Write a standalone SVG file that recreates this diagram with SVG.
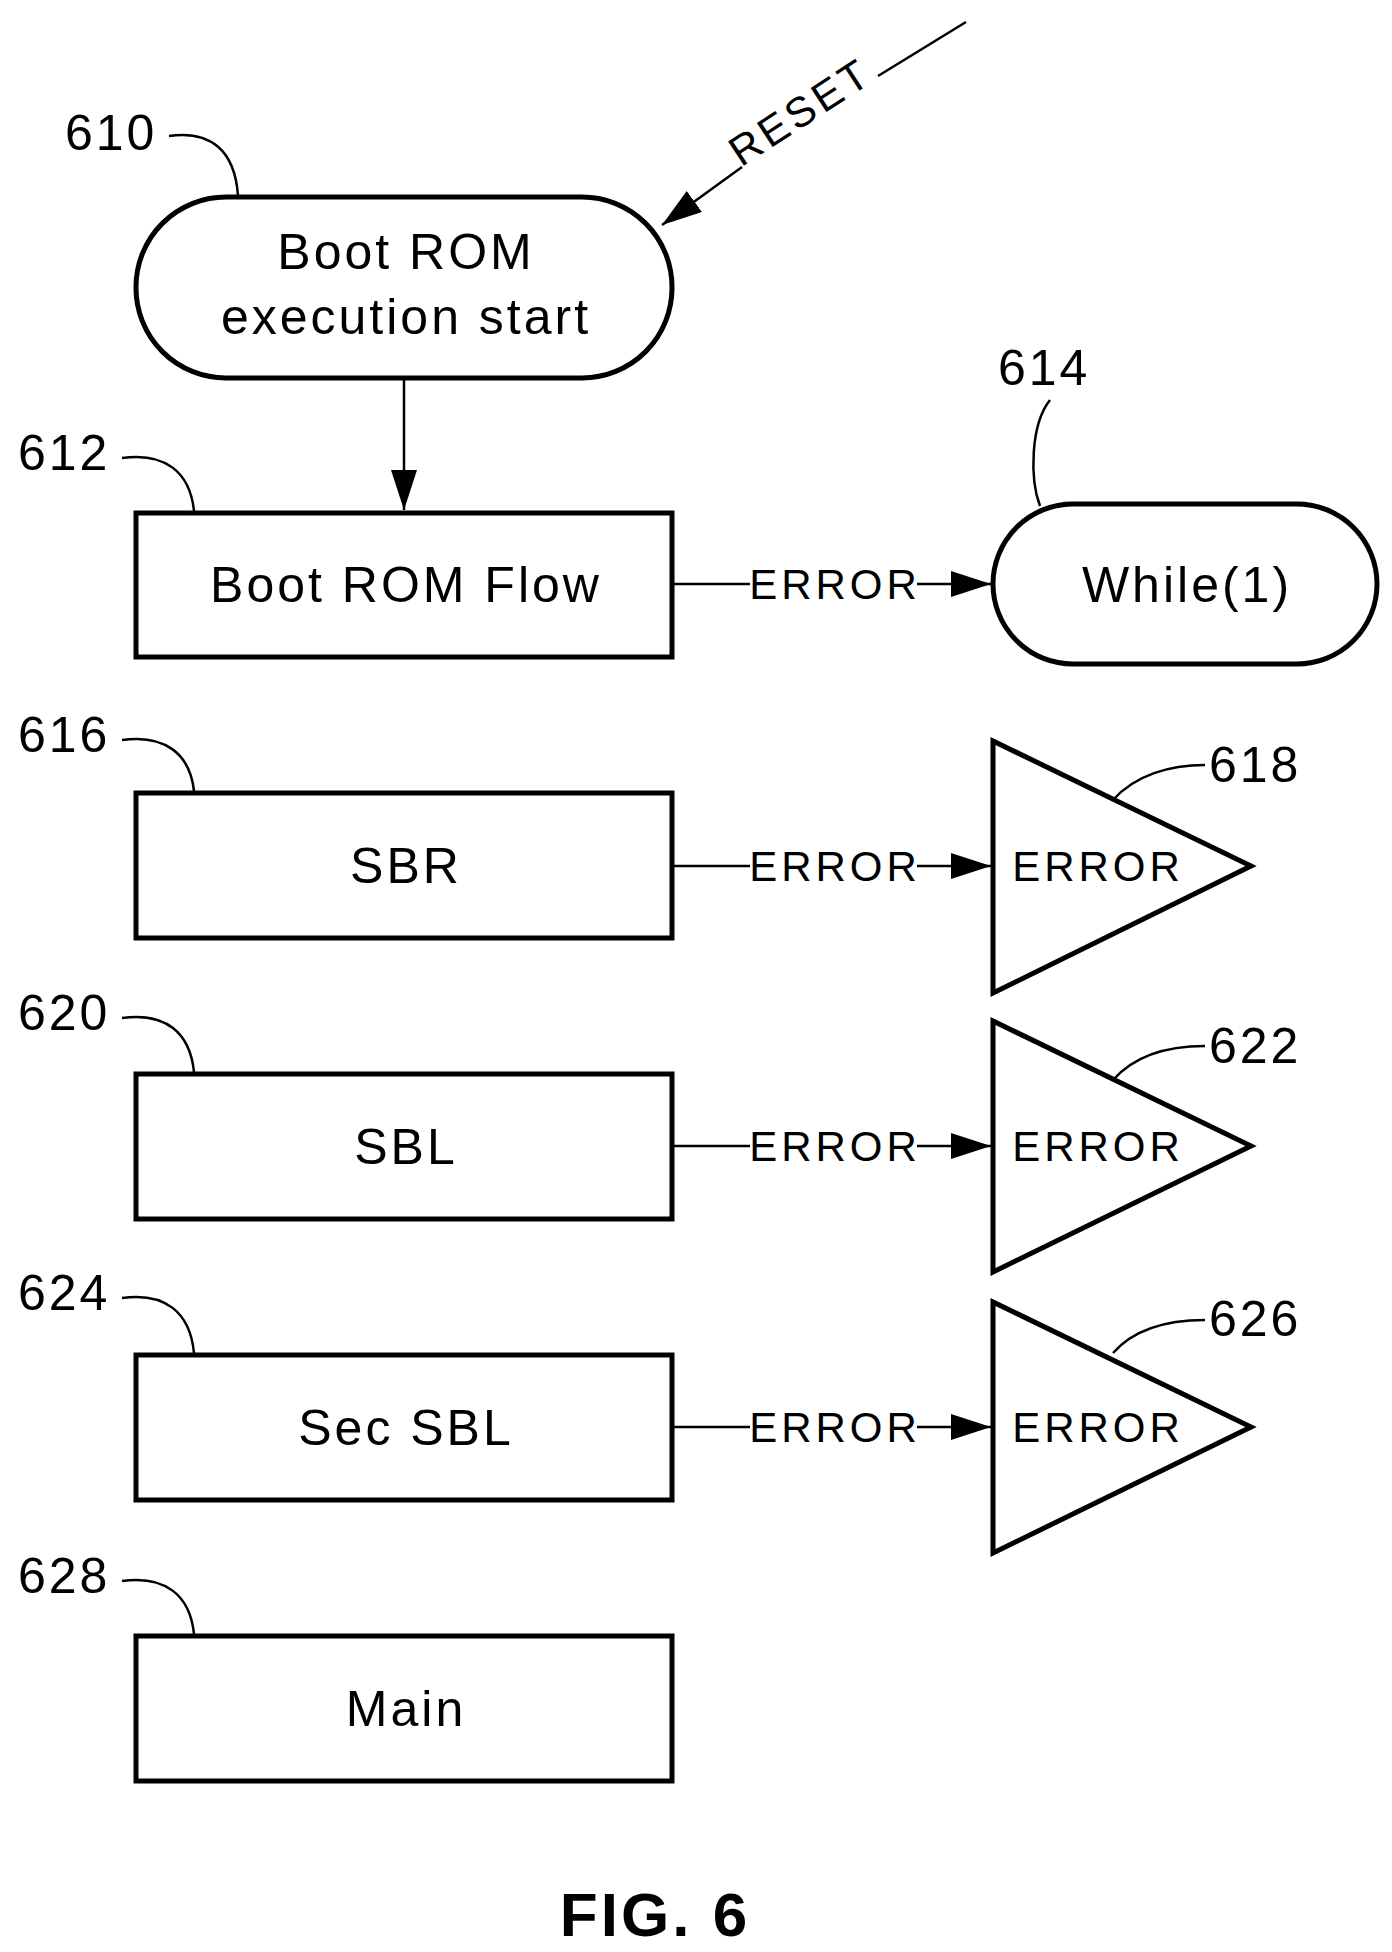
<svg xmlns="http://www.w3.org/2000/svg" width="1392" height="1952" viewBox="0 0 1392 1952">
<style>
.s{fill:#fff;stroke:#000;stroke-width:5}
.l{fill:none;stroke:#000;stroke-width:2.5}
.t{font-family:"Liberation Sans",Arial,sans-serif;font-size:50px;letter-spacing:3px;fill:#000;text-anchor:middle}
.n{font-family:"Liberation Sans",Arial,sans-serif;font-size:50px;letter-spacing:3px;fill:#000}
.e{font-family:"Liberation Sans",Arial,sans-serif;font-size:42px;letter-spacing:4px;fill:#000}
</style>
<defs>
<marker id="b" markerWidth="40" markerHeight="26" refX="40" refY="13" orient="auto" markerUnits="userSpaceOnUse" viewBox="0 0 40 26"><path d="M0,0L40,13L0,26z" fill="#000"/></marker></defs>
<g id="connectors">
<line class="l" x1="404" y1="379" x2="404" y2="510" marker-end="url(#b)"/>
<line class="l" x1="966" y1="22" x2="878" y2="76"/>
<text class="e" transform="translate(808,124) rotate(-33)" text-anchor="middle">RESET</text>
<line class="l" x1="742" y1="167" x2="662" y2="225" marker-end="url(#b)"/>
<g id="e1"><line class="l" x1="672" y1="584" x2="750" y2="584"/><text class="e" x="835" y="599" text-anchor="middle">ERROR</text><line class="l" x1="917" y1="584" x2="991" y2="584" marker-end="url(#b)"/></g>
<g id="e2"><line class="l" x1="672" y1="866" x2="750" y2="866"/><text class="e" x="835" y="881" text-anchor="middle">ERROR</text><line class="l" x1="917" y1="866" x2="991" y2="866" marker-end="url(#b)"/></g>
<g id="e3"><line class="l" x1="672" y1="1146" x2="750" y2="1146"/><text class="e" x="835" y="1161" text-anchor="middle">ERROR</text><line class="l" x1="917" y1="1146" x2="991" y2="1146" marker-end="url(#b)"/></g>
<g id="e4"><line class="l" x1="672" y1="1427" x2="750" y2="1427"/><text class="e" x="835" y="1442" text-anchor="middle">ERROR</text><line class="l" x1="917" y1="1427" x2="991" y2="1427" marker-end="url(#b)"/></g>
</g>
<g id="n610"><rect class="s" x="136" y="197" width="536" height="181" rx="90"/><text class="t" x="406" y="269">Boot ROM</text><text class="t" x="406" y="334">execution start</text>
<text class="n" x="65" y="150">610</text><path class="l" d="M169,136 C210,130 235,150 238,196"/></g>
<g id="n612"><rect class="s" x="136" y="513" width="536" height="144"/><text class="t" x="406" y="602">Boot ROM Flow</text>
<text class="n" x="18" y="470">612</text><path class="l" d="M122,458 C165,452 190,472 194,511"/></g>
<g id="n614"><rect class="s" x="993" y="504" width="384" height="160" rx="80"/><text class="t" x="1187" y="602">While(1)</text>
<text class="n" x="998" y="385">614</text><path class="l" d="M1050,400 C1030,425 1030,480 1040,506"/></g>
<g id="n616"><rect class="s" x="136" y="793" width="536" height="145"/><text class="t" x="406" y="883">SBR</text>
<text class="n" x="18" y="752">616</text><path class="l" d="M122,740 C165,734 190,754 194,791"/></g>
<g id="n618"><path class="s" d="M993,741L1251,866L993,993z"/><text class="e" x="1098" y="881" text-anchor="middle">ERROR</text>
<text class="n" x="1209" y="782">618</text><path class="l" d="M1113,800 C1135,775 1170,765 1205,765"/></g>
<g id="n620"><rect class="s" x="136" y="1074" width="536" height="145"/><text class="t" x="406" y="1164">SBL</text>
<text class="n" x="18" y="1030">620</text><path class="l" d="M122,1018 C165,1012 190,1032 194,1072"/></g>
<g id="n622"><path class="s" d="M993,1021L1251,1146L993,1272z"/><text class="e" x="1098" y="1161" text-anchor="middle">ERROR</text>
<text class="n" x="1209" y="1063">622</text><path class="l" d="M1113,1080 C1135,1055 1170,1046 1205,1046"/></g>
<g id="n624"><rect class="s" x="136" y="1355" width="536" height="145"/><text class="t" x="406" y="1445">Sec SBL</text>
<text class="n" x="18" y="1310">624</text><path class="l" d="M122,1298 C165,1292 190,1312 194,1353"/></g>
<g id="n626"><path class="s" d="M993,1302L1251,1427L993,1553z"/><text class="e" x="1098" y="1442" text-anchor="middle">ERROR</text>
<text class="n" x="1209" y="1336">626</text><path class="l" d="M1113,1353 C1135,1328 1170,1320 1205,1320"/></g>
<g id="n628"><rect class="s" x="136" y="1636" width="536" height="145"/><text class="t" x="406" y="1726">Main</text>
<text class="n" x="18" y="1593">628</text><path class="l" d="M122,1581 C165,1575 190,1595 194,1634"/></g>
<text x="655" y="1936" font-family="Liberation Sans,Arial,sans-serif" font-weight="bold" font-size="62" letter-spacing="3" text-anchor="middle">FIG. 6</text>
</svg>
